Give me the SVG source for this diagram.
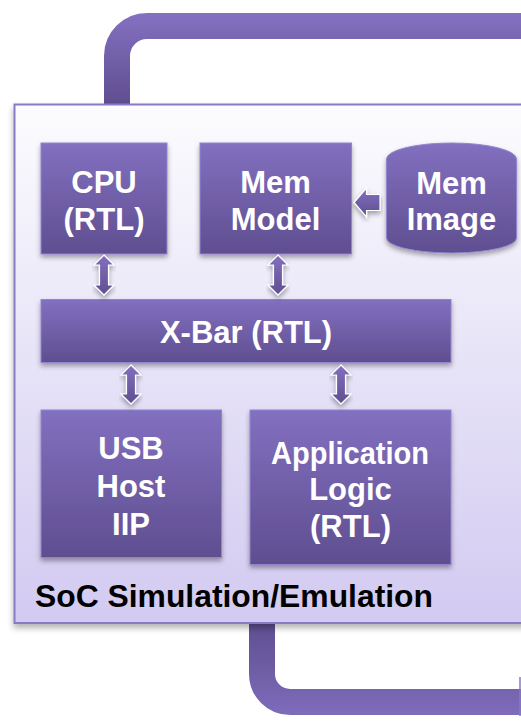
<svg xmlns="http://www.w3.org/2000/svg" width="521" height="726" viewBox="0 0 521 726">
  <defs>
    <linearGradient id="blockFill" x1="0" y1="0" x2="0" y2="1">
      <stop offset="0" stop-color="#8270c0"/>
      <stop offset="1" stop-color="#5f4e90"/>
    </linearGradient>
    <linearGradient id="panelFill" x1="0" y1="0" x2="0" y2="1">
      <stop offset="0" stop-color="#fcfcfe"/>
      <stop offset="1" stop-color="#d2caf1"/>
    </linearGradient>
    <linearGradient id="linkTop" gradientUnits="userSpaceOnUse" x1="0" y1="13" x2="0" y2="104">
      <stop offset="0" stop-color="#8471c1"/>
      <stop offset="1" stop-color="#5f4e8f"/>
    </linearGradient>
    <linearGradient id="linkBottom" gradientUnits="userSpaceOnUse" x1="0" y1="623" x2="0" y2="715">
      <stop offset="0" stop-color="#5f4e8f"/>
      <stop offset="1" stop-color="#7e6cbb"/>
    </linearGradient>
    <filter id="shadow" x="-10%" y="-10%" width="120%" height="130%">
      <feDropShadow dx="0" dy="3" stdDeviation="2.5" flood-color="#000" flood-opacity="0.35"/>
    </filter>
    <filter id="panelShadow" x="-5%" y="-5%" width="110%" height="110%">
      <feDropShadow dx="0" dy="4" stdDeviation="3" flood-color="#000" flood-opacity="0.3"/>
    </filter>
  </defs>
  <style>
    .block { fill: url(#blockFill); stroke: #9483cf; stroke-width: 1; filter: url(#shadow); }
    .label { font-family: "Liberation Sans", Arial, sans-serif; font-weight: bold; font-size: 31px; fill: #ffffff; text-anchor: middle; }
    .title { font-family: "Liberation Sans", Arial, sans-serif; font-weight: bold; font-size: 31px; fill: #000000; }
    .arrow { fill: url(#blockFill); stroke: #ffffff; stroke-width: 1.2; stroke-linejoin: miter; filter: url(#shadow); }
    .link { fill: none; stroke-width: 26; }
  </style>

  <!-- loop-back links leaving the top and bottom of the SoC panel -->
  <g id="connectors">
    <path class="link" stroke="url(#linkTop)" d="M117,106 L117,56 A30,30 0 0 1 147,26 L540,26"/>
    <path class="link" stroke="url(#linkBottom)" d="M262,620 L262,674 A28,28 0 0 0 290,702 L540,702"/>
    <line x1="520" y1="677" x2="520" y2="716" stroke="#8a79c6" stroke-width="1.5"/>
  </g>

  <!-- SoC simulation / emulation panel -->
  <g id="soc">
    <rect x="14.5" y="104.5" width="540" height="518.5" fill="url(#panelFill)" stroke="#8a79c6" stroke-width="2" filter="url(#panelShadow)"/>
    <text class="title" x="35" y="607" textLength="398" lengthAdjust="spacingAndGlyphs">SoC Simulation/Emulation</text>
  </g>

  <g id="cpu">
    <rect class="block" x="41" y="143" width="126" height="111"/>
    <text class="label" x="104" y="193">CPU</text>
    <text class="label" x="104" y="229.5">(RTL)</text>
  </g>

  <g id="mem-model">
    <rect class="block" x="200" y="143" width="151.5" height="111"/>
    <text class="label" x="275.5" y="193">Mem</text>
    <text class="label" x="275.5" y="229.5">Model</text>
  </g>

  <g id="mem-image">
    <path class="block" d="M386.5,159 A65,16 0 0 1 516.5,159 L516.5,238 A65,15 0 0 1 386.5,238 Z"/>
    <text class="label" x="451.5" y="193.5">Mem</text>
    <text class="label" x="451.5" y="229.5">Image</text>
  </g>

  <g id="xbar">
    <rect class="block" x="41" y="299.5" width="410" height="63"/>
    <text class="label" x="246" y="342.5">X-Bar (RTL)</text>
  </g>

  <g id="usb-host">
    <rect class="block" x="41" y="410" width="180.5" height="147.5"/>
    <text class="label" x="131" y="458.5">USB</text>
    <text class="label" x="131" y="496.5">Host</text>
    <text class="label" x="131" y="534.5">IIP</text>
  </g>

  <g id="app-logic">
    <rect class="block" x="250" y="410" width="201" height="154.5"/>
    <text class="label" x="350" y="463.5" font-size="30" textLength="158" lengthAdjust="spacingAndGlyphs">Application</text>
    <text class="label" x="350.5" y="499.5">Logic</text>
    <text class="label" x="350.5" y="536.5">(RTL)</text>
  </g>

  <!-- block arrows between blocks -->
  <g id="arrows">
    <polygon class="arrow" points="354,202.5 366.5,188 366.5,194.5 380,194.5 380,210.5 366.5,210.5 366.5,217"/>
    <polygon class="arrow" points="104,255 114,265 108.5,265 108.5,285 114,285 104,295 94,285 99.5,285 99.5,265 94,265"/>
    <polygon class="arrow" points="278,255 288,265 282.5,265 282.5,285 288,285 278,295 268,285 273.5,285 273.5,265 268,265"/>
    <polygon class="arrow" points="131,365 141,375 135.5,375 135.5,394 141,394 131,404 121,394 126.5,394 126.5,375 121,375"/>
    <polygon class="arrow" points="341,365 351,375 345.5,375 345.5,394 351,394 341,404 331,394 336.5,394 336.5,375 331,375"/>
  </g>
</svg>
